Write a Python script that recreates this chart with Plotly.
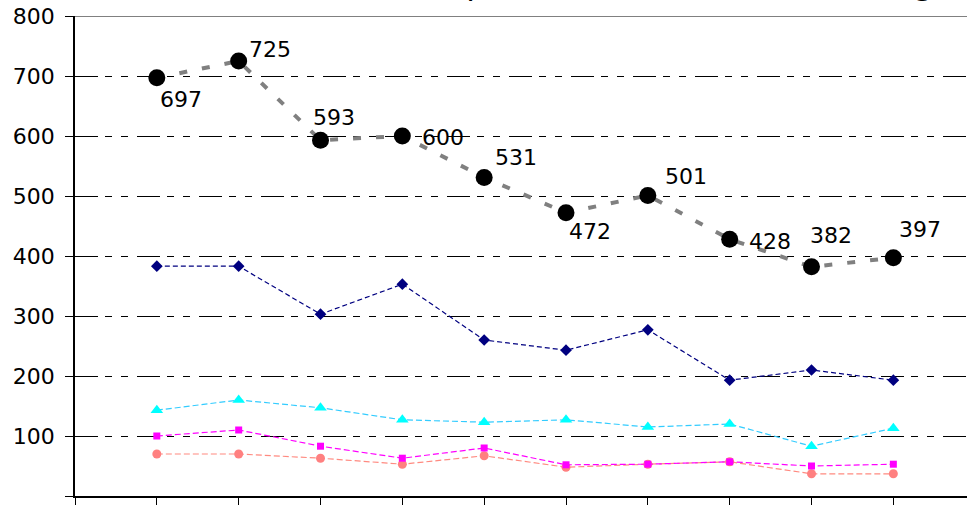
import plotly.graph_objects as go

x_pos = [1, 2, 3, 4, 5, 6, 7, 8, 9, 10]
total = [697, 725, 593, 600, 531, 472, 501, 428, 382, 397]
navy = [383, 383, 303, 353, 260, 243, 277, 193, 210, 193]
cyan = [143, 160, 147, 127, 123, 127, 115, 120, 83, 113]
magenta = [100, 110, 83, 63, 80, 52, 53, 57, 50, 53]
salmon = [70, 70, 63, 53, 67, 48, 53, 57, 37, 37]
y_ticks = [0, 100, 200, 300, 400, 500, 600, 700, 800]
title_text = "Concentrations of particulate matter in air / (ug/m3)"

# label offsets (px) relative to each marker: left edge dx, vertical centre dy (down +)
label_dx = [2, 9, -9, 19, 10, 2, 16, 18, -3, 5]
label_dy = [22, -12, -23, 1, -20, 19, -19, 2, -31, -28]

fig = go.Figure()

fig.add_trace(go.Scatter(x=x_pos, y=salmon, mode="lines+markers",
                         line=dict(color="#FF8A80", width=1.2, dash="6px,3px"),
                         marker=dict(symbol="circle", size=9, color="#FF8080")))
fig.add_trace(go.Scatter(x=x_pos, y=magenta, mode="lines+markers",
                         line=dict(color="#FF00FF", width=1.2, dash="6px,3px"),
                         marker=dict(symbol="square", size=7, color="#FF00FF")))
fig.add_trace(go.Scatter(x=x_pos, y=cyan, mode="lines+markers",
                         line=dict(color="#33CCFF", width=1.2, dash="6px,3px"),
                         marker=dict(symbol="triangle-up", size=11, color="#00FFFF")))
fig.add_trace(go.Scatter(x=x_pos, y=navy, mode="lines+markers",
                         line=dict(color="#000080", width=1.2, dash="5px,3px"),
                         marker=dict(symbol="diamond", size=9, color="#000080")))
fig.add_trace(go.Scatter(x=x_pos, y=total, mode="lines+markers",
                         line=dict(color="#808080", width=4, dash="8px,15px"),
                         marker=dict(symbol="circle", size=17, color="#000000")))

for xv, yv, dx, dy in zip(x_pos, total, label_dx, label_dy):
    fig.add_annotation(x=xv, y=yv, xref="x", yref="y", text=str(yv), showarrow=False,
                       xanchor="left", yanchor="middle", xshift=dx, yshift=-dy,
                       borderpad=0,
                       font=dict(family="DejaVu Sans", size=22, color="#000000"))

fig.add_shape(type="line", xref="paper", yref="y", x0=0, x1=1, y0=800, y1=800,
              line=dict(color="#808080", width=2))

fig.add_annotation(text=title_text, xref="paper", yref="paper", x=0.1065, y=1.0246,
                   xanchor="left", yanchor="bottom", showarrow=False,
                   font=dict(family="DejaVu Sans", size=32, color="#000000"))

fig.update_layout(
    width=967, height=505,
    margin=dict(l=75, r=0, t=16, b=9, autoexpand=False),
    paper_bgcolor="white", plot_bgcolor="white",
    showlegend=False,
    font=dict(family="DejaVu Sans", size=22, color="#000000"),
)
fig.update_xaxes(range=[0, 10.9], tickvals=list(range(0, 11)), showticklabels=False,
                 ticks="outside", ticklen=9, tickcolor="#000000", tickwidth=1,
                 showline=True, linecolor="#000000", linewidth=1.5,
                 showgrid=False, zeroline=False, automargin=False)
fig.update_yaxes(range=[0, 800], tickvals=y_ticks, ticks="outside", ticklen=8,
                 tickcolor="#000000", tickwidth=1, ticklabelstandoff=6,
                 showline=True, linecolor="#000000", linewidth=1.5,
                 showgrid=True, gridcolor="#000000", gridwidth=1,
                 griddash="23px,7px,7px,9px,7px,9px", zeroline=False, automargin=False,
                 tickfont=dict(family="DejaVu Sans", size=22, color="#000000"))

fig.write_html("out.html", config={"displayModeBar": False},
               post_script="document.body.style.margin='0';document.body.style.overflow='hidden';")
